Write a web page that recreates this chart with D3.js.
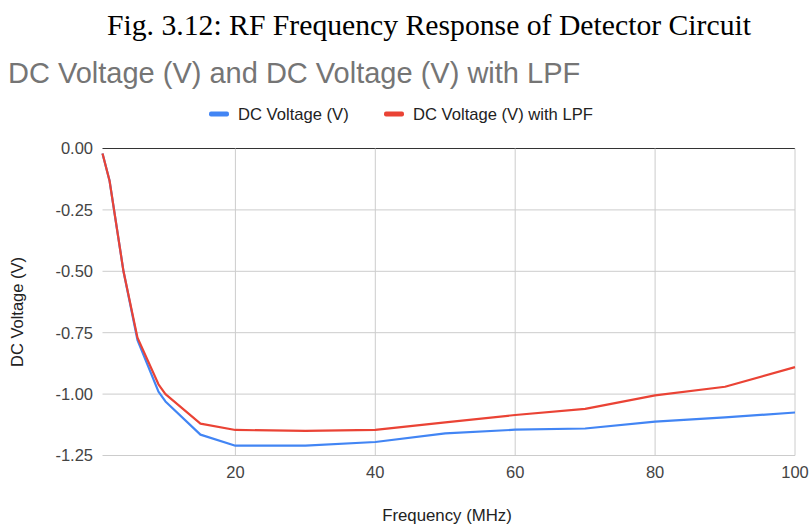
<!DOCTYPE html>
<html>
<head>
<meta charset="utf-8">
<script src="https://cdn.jsdelivr.net/npm/d3@7"></script>
<style>
  body { margin: 0; background: #fff; }
  svg text { font-family: "Liberation Sans", Arial, sans-serif; }
</style>
</head>
<body>
<svg id="chart"></svg>
<script>
// DATA
const freqMHz = [1, 2, 4, 6, 9, 10, 15, 20, 30, 40, 50, 60, 70, 80, 90, 100];
const dcVoltage = [-0.02, -0.13, -0.50, -0.78, -0.99, -1.03, -1.165, -1.21, -1.21, -1.195, -1.16, -1.145, -1.14, -1.112, -1.095, -1.075];
const dcVoltageLPF = [-0.02, -0.13, -0.50, -0.77, -0.96, -1.00, -1.12, -1.146, -1.15, -1.146, -1.115, -1.085, -1.06, -1.005, -0.97, -0.89];
const seriesNames = ["DC Voltage (V)", "DC Voltage (V) with LPF"];
const xTicks = [20, 40, 60, 80, 100];
const yTicks = [0, -0.25, -0.5, -0.75, -1.0, -1.25];

// SET VARIABLES
const _width = 811, _height = 525;
const _plot = {left: 102.5, right: 795, top: 148.5, bottom: 455.5};
const _color = {blue: "#4285f4", red: "#ea4335", grid: "#cccccc", zero: "#333333", label: "#444444", title: "#757575"};

const svg = d3.select("#chart")
              .attr("width", _width)
              .attr("height", _height);

const x = d3.scaleLinear().domain([1, 100]).range([_plot.left, _plot.right]);
const y = d3.scaleLinear().domain([-1.25, 0]).range([_plot.bottom, _plot.top]);

// TITLES
svg.append("text")
    .attr("x", 429)
    .attr("y", 35)
    .attr("text-anchor", "middle")
    .style("font-family", "'Liberation Serif', 'Times New Roman', serif")
    .style("font-size", "29.7px")
    .attr("fill", "#000")
    .text("Fig. 3.12: RF Frequency Response of Detector Circuit");

svg.append("text")
    .attr("x", 8)
    .attr("y", 83)
    .style("font-size", "29px")
    .attr("fill", _color.title)
    .text("DC Voltage (V) and DC Voltage (V) with LPF");

// LEGEND
const legendItems = [{name: seriesNames[0], color: _color.blue, x: 209},
                     {name: seriesNames[1], color: _color.red, x: 384}];
const legend = svg.append("g").attr("id", "legend");
const lg = legend.selectAll("g")
                  .data(legendItems)
                  .enter()
                .append("g")
                  .attr("transform", d => `translate(${d.x}, 114)`);
    lg.append("rect")
        .attr("x", 0)
        .attr("y", -2.5)
        .attr("width", 20)
        .attr("height", 5)
        .attr("rx", 2)
        .attr("fill", d => d.color);
    lg.append("text")
        .attr("x", 29)
        .attr("y", 0)
        .attr("dy", "0.35em")
        .style("font-size", "16.6px")
        .attr("fill", "#222")
        .text(d => d.name);

// GRID
const grid = svg.append("g").attr("id", "grid");
grid.selectAll("line.h")
    .data(yTicks)
      .enter()
    .append("line")
      .attr("class", "h")
      .attr("x1", _plot.left)
      .attr("x2", _plot.right)
      .attr("y1", d => y(d))
      .attr("y2", d => y(d))
      .attr("stroke", d => d === 0 ? _color.zero : _color.grid)
      .attr("stroke-width", 1);
grid.selectAll("line.v")
    .data(xTicks)
      .enter()
    .append("line")
      .attr("class", "v")
      .attr("x1", d => x(d))
      .attr("x2", d => x(d))
      .attr("y1", _plot.top)
      .attr("y2", _plot.bottom)
      .attr("stroke", _color.grid)
      .attr("stroke-width", 1);

// AXES LABELS
svg.append("g").selectAll("text")
    .data(yTicks)
      .enter()
    .append("text")
      .attr("x", 93)
      .attr("y", d => y(d))
      .attr("dy", "0.36em")
      .attr("text-anchor", "end")
      .style("font-size", "16.5px")
      .attr("fill", _color.label)
      .text(d => d3.format(".2f")(d).replace("−", "-"));

svg.append("g").selectAll("text")
    .data(xTicks)
      .enter()
    .append("text")
      .attr("x", d => x(d))
      .attr("y", 478)
      .attr("text-anchor", "middle")
      .style("font-size", "16.5px")
      .attr("fill", _color.label)
      .text(d => d);

svg.append("text")
    .attr("x", 447)
    .attr("y", 521)
    .attr("text-anchor", "middle")
    .style("font-size", "16.8px")
    .attr("fill", "#222")
    .text("Frequency (MHz)");

svg.append("text")
    .attr("transform", "translate(23, 312) rotate(-90)")
    .attr("text-anchor", "middle")
    .style("font-size", "16.5px")
    .attr("fill", "#222")
    .text("DC Voltage (V)");

// LINES
const line = d3.line()
                .x(d => x(d[0]))
                .y(d => y(d[1]));
const series = [{color: _color.blue, values: d3.zip(freqMHz, dcVoltage)},
                {color: _color.red, values: d3.zip(freqMHz, dcVoltageLPF)}];
svg.append("g").selectAll("path")
    .data(series)
      .enter()
    .append("path")
      .attr("d", d => line(d.values))
      .attr("fill", "none")
      .attr("stroke", d => d.color)
      .attr("stroke-width", 2.2)
      .attr("stroke-linejoin", "round");
</script>
</body>
</html>
